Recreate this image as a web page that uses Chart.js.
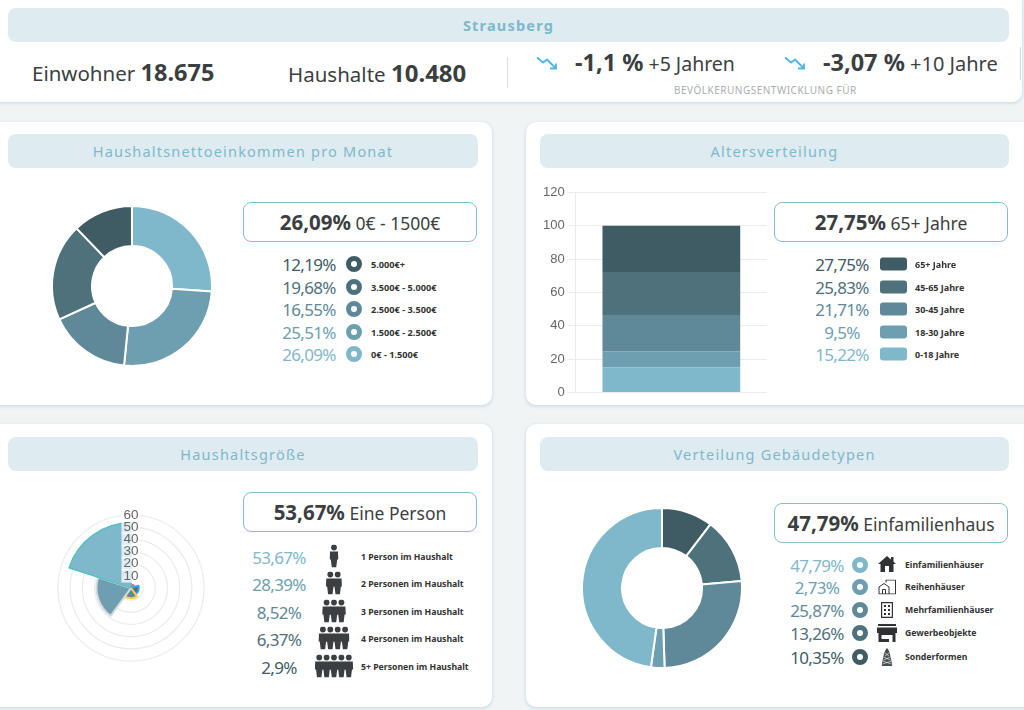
<!DOCTYPE html>
<html lang="de">
<head>
<meta charset="utf-8">
<title>Strausberg</title>
<script src="https://cdn.jsdelivr.net/npm/chart.js@4"></script>
<style>
  html, body { margin: 0; padding: 0; width: 1024px; height: 710px; overflow: hidden; background: #f1f4f5; }
  body { position: relative; font-family: "Noto Sans", sans-serif; color: #3c3f41; }
  .card { position: absolute; background: #fff; border-radius: 10px; box-shadow: 0 1px 3px 1px #cfe2e9; }
  .band { position: absolute; height: 34px; line-height: 34px; background: #deecf1; border-radius: 8px; text-align: center; color: #7fb8cb; font-size: 14.5px; letter-spacing: 1.2px; }
  .box { position: absolute; width: 232px; height: 38px; line-height: 38px; border: 1px solid #86bdcf; border-radius: 8px; text-align: center; font-size: 17.5px; background: #fff; white-space: nowrap; }
  .box b { font-size: 20.5px; }
  .t { position: absolute; white-space: nowrap; transform: translateY(-50%); }
  .val { font-size: 17px; letter-spacing: -.7px; transform: translate(-50%, -50%); }
  .lab { font-size: 8.7px; font-weight: 700; color: #333; }
  .dot { position: absolute; width: 6px; height: 6px; border: 5px solid; border-radius: 50%; background: #fff; transform: translate(-50%, -50%); }
  .rect { position: absolute; width: 27px; height: 13px; border-radius: 3px; transform: translateY(-50%); }
  .icon { position: absolute; transform: translate(-50%, -50%); display: block; }
  canvas { position: absolute; }
</style>
</head>
<body>
<div class="card" style="left:-10px;top:-10px;width:1032px;height:112px"></div>
<div class="card" style="left:-10px;top:122px;width:502px;height:283px"></div>
<div class="card" style="left:526px;top:122px;width:520px;height:283px"></div>
<div class="card" style="left:-10px;top:424px;width:502px;height:283px"></div>
<div class="card" style="left:526px;top:424px;width:520px;height:283px"></div>

<div class="band" style="left:8px;top:8px;width:1001px;font-weight:700">Strausberg</div>
<div class="t" style="left:32px;top:72px;font-size:20.5px">Einwohner <b style="font-size:23.5px">18.675</b></div>
<div class="t" style="left:288px;top:72px;font-size:20.5px">Haushalte <b style="font-size:24px">10.480</b></div>
<div style="position:absolute;left:507px;top:57px;width:1px;height:31px;background:#dcdfe0"></div>
<svg class="icon" style="left:547px;top:63px" width="22" height="15" viewBox="0 0 22 15"><path d="M1 2 L7 7 L11 4 L20 13 M14 13 H20 V8" fill="none" stroke="#4db5ea" stroke-width="1.8"/></svg>
<svg class="icon" style="left:795px;top:63px" width="22" height="15" viewBox="0 0 22 15"><path d="M1 2 L7 7 L11 4 L20 13 M14 13 H20 V8" fill="none" stroke="#4db5ea" stroke-width="1.8"/></svg>
<div class="t" style="left:575px;top:62px;font-size:19.5px"><b style="font-size:23.5px">-1,1 %</b> +5 Jahren</div>
<div class="t" style="left:823px;top:62px;font-size:20px"><b style="font-size:23.5px">-3,07 %</b> +10 Jahre</div>
<div class="t" style="left:674px;top:90px;font-size:10px;letter-spacing:.5px;color:#a9adaf">BEVÖLKERUNGSENTWICKLUNG FÜR</div>
<div style="position:absolute;left:1020px;top:47px;width:1px;height:33px;background:#d5d8d9"></div>

<div class="band" style="left:8px;top:134px;width:470px">Haushaltsnettoeinkommen pro Monat</div>
<div class="band" style="left:540px;top:134px;width:469px">Altersverteilung</div>
<div class="band" style="left:8px;top:437px;width:470px">Haushaltsgröße</div>
<div class="band" style="left:540px;top:437px;width:469px">Verteilung Gebäudetypen</div>

<canvas id="incomeChart" style="left:51px;top:205px" width="162" height="162"></canvas>
<canvas id="ageChart" style="left:540px;top:180px" width="235" height="225"></canvas>
<canvas id="sizeChart" style="left:51px;top:508px" width="160" height="160"></canvas>
<canvas id="buildingChart" style="left:581px;top:507px" width="162" height="162"></canvas>

<div class="box" style="left:243px;top:202px"><b>26,09%</b> 0€ - 1500€</div>
<div class="box" style="left:774px;top:202px"><b>27,75%</b> 65+ Jahre</div>
<div class="box" style="left:243px;top:492px"><b>53,67%</b> Eine Person</div>
<div class="box" style="left:774px;top:503px"><b>47,79%</b> Einfamilienhaus</div>

<script>
const shades = ["#7fb8cb", "#6e9fb0", "#5f8999", "#4f717b", "#3f5c65"];

// Haushaltsnettoeinkommen, clockwise from the top
const incomeLabels = ["0€ - 1.500€", "1.500€ - 2.500€", "2.500€ - 3.500€", "3.500€ - 5.000€", "5.000€+"];
const incomeValues = [26.09, 25.51, 16.55, 19.68, 12.19];

// Altersverteilung, stacked from the bottom
const ageLabels = ["0-18 Jahre", "18-30 Jahre", "30-45 Jahre", "45-65 Jahre", "65+ Jahre"];
const ageValues = [15.22, 9.5, 21.71, 25.83, 27.75];
const ageTicks = [0, 20, 40, 60, 80, 100, 120];

// Haushaltsgröße, clockwise from the top
const sizeLabels = ["5+ Personen im Haushalt", "4 Personen im Haushalt", "3 Personen im Haushalt", "2 Personen im Haushalt", "1 Person im Haushalt"];
const sizeValues = [2.9, 6.37, 8.52, 28.39, 53.67];
const sizeBorders = ["#ff6384", "#36a2eb", "#ffcd56", "#d5d9dc", "#4bc0c0"];

// Gebäudetypen, clockwise from the top
const buildingLabels = ["Sonderformen", "Gewerbeobjekte", "Mehrfamilienhäuser", "Reihenhäuser", "Einfamilienhäuser"];
const buildingValues = [10.35, 13.26, 25.87, 2.73, 47.79];

const fmt = v => String(v).replace(".", ",") + "%";

function add(html) {
  document.body.insertAdjacentHTML("beforeend", html);
}

function personIcon(n, x, y) {
  let shapes = "";
  for (let i = 0; i < n; i++) {
    const cx = 4.5 + i * 7.4;
    shapes += `<circle cx="${cx}" cy="3" r="2.9"/><path d="M${cx - 4} 7 h8 l.4 8 h-1.2 l-1 8 h-4.4 l-1 -8 h-1.2 z"/>`;
  }
  const w = 9 + (n - 1) * 7.4;
  add(`<svg class="icon" style="left:${x}px;top:${y}px" width="${w}" height="23" viewBox="0 0 ${w} 23" fill="#3c3f41">${shapes}</svg>`);
}

const buildingIcons = {
  "Einfamilienhäuser": `<svg class="icon" style="left:887px;top:564px" width="18" height="16" viewBox="0 0 18 16" fill="#2f3133"><path d="M9 0 L18 8 H15.5 V16 H11 V10 H7 V16 H2.5 V8 H0 Z"/><rect x="13" y="1" width="2.5" height="5"/></svg>`,
  "Reihenhäuser": `<svg class="icon" style="left:887px;top:587px" width="18" height="15" viewBox="0 0 18 15" fill="none" stroke="#333" stroke-width="1"><path d="M1 14.5 V7.5 L6 4 L11 7.5 V14.5 Z M4.5 14.5 V10 H7.5 V14.5 M8 3 V.5 H17.5 V14.5 H11"/></svg>`,
  "Mehrfamilienhäuser": `<svg class="icon" style="left:887px;top:610px" width="12" height="16" viewBox="0 0 12 16" fill="#333"><path d="M0 0 H12 V16 H0 Z M1.2 1.2 V14.8 H10.8 V1.2 Z" fill-rule="evenodd"/><path d="M3 3h2v2h-2zM7 3h2v2h-2zM3 7h2v2h-2zM7 7h2v2h-2zM3 11h2v2h-2zM7 11h2v2h-2z"/></svg>`,
  "Gewerbeobjekte": `<svg class="icon" style="left:887px;top:633px" width="20" height="18" viewBox="0 0 20 18" fill="#2f3133"><rect x="1" y="0" width="18" height="2"/><path d="M0 3.5 H20 V9 H0 Z"/><path d="M1.5 9 H18.5 V18 H15.5 V11 H4.5 V15 H12 V18 H1.5 Z"/></svg>`,
  "Sonderformen": `<svg class="icon" style="left:887px;top:657px" width="11" height="18" viewBox="0 0 11 18" fill="#4a4d4f"><path d="M5.5 0 C8 2 9 8 11 18 H0 C2 8 3 2 5.5 0 Z"/><path d="M1 13 L10 16 M10 13 L1 16 M2 9 L9 12 M9 9 L2 12 M3.5 5 L7.5 8 M7.5 5 L3.5 8" stroke="#fff" stroke-width=".6"/></svg>`
};

function rows(labels, values, ys, draw) {
  for (let i = 0; i < labels.length; i++) draw(labels[i], values[i], ys[i], i);
}

rows(incomeLabels, incomeValues, [354, 332, 309, 287, 264], (label, value, y, i) => {
  add(`<div class="t val" style="left:309px;top:${y}px;color:${shades[i]}">${fmt(value)}</div>`);
  add(`<div class="dot" style="left:354px;top:${y}px;border-color:${shades[i]}"></div>`);
  add(`<div class="t lab" style="left:371px;top:${y}px;font-size:9.2px">${label}</div>`);
});

rows(ageLabels, ageValues, [354, 332, 309, 287, 264], (label, value, y, i) => {
  add(`<div class="t val" style="left:842px;top:${y}px;color:${shades[i]}">${fmt(value)}</div>`);
  add(`<div class="rect" style="left:880px;top:${y}px;background:${shades[i]}"></div>`);
  add(`<div class="t lab" style="left:915px;top:${y}px;font-size:9px">${label}</div>`);
});

rows(sizeLabels, sizeValues, [667, 639, 612, 584, 557], (label, value, y, i) => {
  add(`<div class="t val" style="left:279px;top:${y}px;color:${shades[4 - i]}">${fmt(value)}</div>`);
  personIcon(5 - i, 334, y - 1);
  add(`<div class="t lab" style="left:361px;top:${y}px">${label}</div>`);
});

rows(buildingLabels, buildingValues, [657, 633, 610, 587, 565], (label, value, y, i) => {
  const c = shades[4 - i];
  add(`<div class="t val" style="left:817px;top:${y}px;color:${c}">${fmt(value)}</div>`);
  add(`<div class="dot" style="left:860px;top:${y}px;border-color:${c}"></div>`);
  add(buildingIcons[label]);
  add(`<div class="t lab" style="left:905px;top:${y}px">${label}</div>`);
});

Chart.defaults.animation = false;
Chart.defaults.responsive = false;
Chart.defaults.plugins.legend.display = false;
Chart.defaults.plugins.tooltip.enabled = false;

new Chart(document.getElementById("incomeChart"), {
  type: "doughnut",
  data: { labels: incomeLabels, datasets: [{ data: incomeValues, backgroundColor: shades, borderColor: "#fff", borderWidth: 2 }] },
  options: { cutout: "50%" }
});

new Chart(document.getElementById("buildingChart"), {
  type: "doughnut",
  data: { labels: buildingLabels, datasets: [{ data: buildingValues, backgroundColor: [...shades].reverse(), borderColor: "#fff", borderWidth: 2 }] },
  options: { cutout: "50%" }
});

new Chart(document.getElementById("ageChart"), {
  type: "bar",
  data: {
    labels: [""],
    datasets: ageLabels.map((label, i) => ({ label, data: [ageValues[i]], backgroundColor: shades[i] }))
  },
  options: {
    layout: { padding: { top: 12.5, bottom: 4.5, right: 8 } },
    scales: {
      x: { stacked: true, grid: { display: false }, ticks: { display: false }, border: { display: false } },
      y: {
        stacked: true,
        min: ageTicks[0],
        max: ageTicks[ageTicks.length - 1],
        grid: { color: "#e9ecee" },
        border: { color: "#e9ecee" },
        afterBuildTicks: axis => { axis.ticks = ageTicks.map(value => ({ value })); },
        ticks: { color: "#666", font: { family: "Liberation Sans", size: 13 } }
      }
    }
  }
});

new Chart(document.getElementById("sizeChart"), {
  type: "polarArea",
  data: {
    labels: sizeLabels,
    datasets: [{ data: sizeValues, backgroundColor: shades.slice().reverse(), borderColor: sizeBorders, borderWidth: [2, 2, 2, 2, 1.2] }]
  },
  options: {
    scales: {
      r: {
        min: 0,
        max: 60,
        grid: { color: "#e8eced", lineWidth: 1.2 },
        ticks: { z: 1, stepSize: 10, color: "#666", backdropPadding: { x: 2, y: 0 }, font: { family: "Liberation Sans", size: 13.5 } }
      }
    }
  }
});
</script>
</body>
</html>
